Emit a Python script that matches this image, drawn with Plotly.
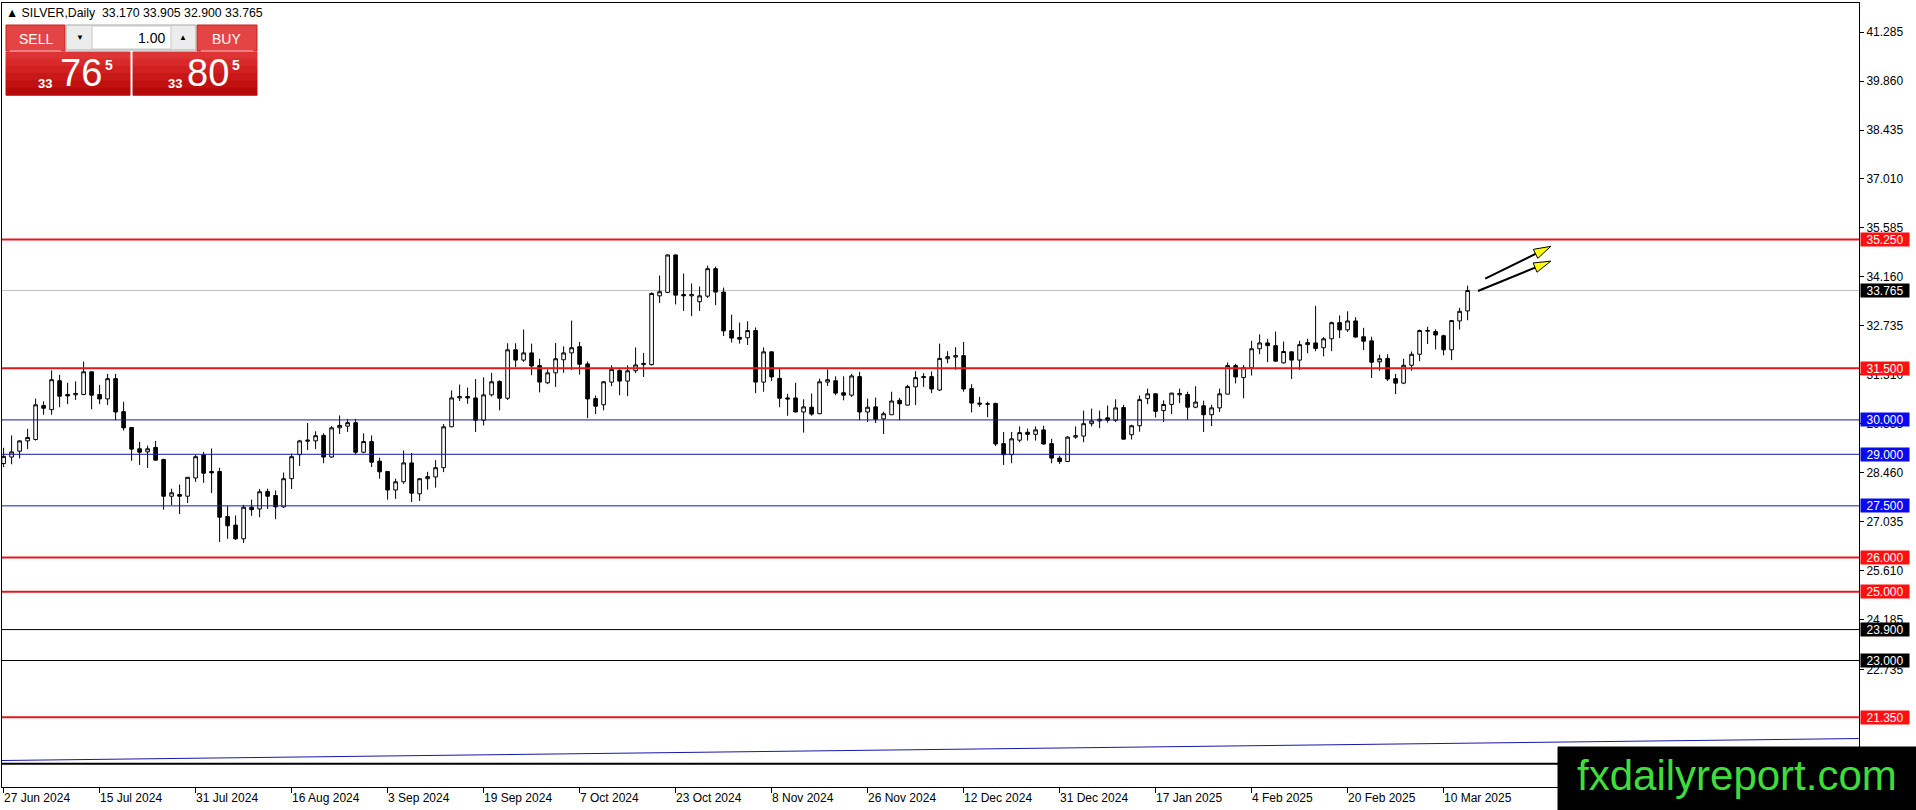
import plotly.graph_objects as go

# SILVER daily candles, one entry per bar (bar index = position on the chart)
opens = [28.73, 28.92, 29.09, 29.39, 29.43, 30.42, 30.30, 31.14, 30.74, 30.73,
         30.74, 31.40, 30.74, 30.61, 31.20, 30.24, 29.78, 29.16, 29.07, 29.20,
         28.85, 27.78, 27.83, 27.78, 28.31, 28.98, 28.50, 28.50, 27.19, 26.94,
         26.54, 27.46, 27.41, 27.92, 27.80, 27.47, 28.29, 28.99, 29.38, 29.39,
         29.55, 28.92, 29.77, 29.82, 29.92, 29.06, 29.37, 28.80, 28.50, 27.96,
         28.20, 28.75, 27.85, 28.29, 28.34, 28.61, 29.80, 30.64, 30.68, 30.64,
         29.99, 30.73, 31.12, 30.63, 32.04, 31.74, 31.95, 31.58, 31.08, 31.37,
         31.75, 31.95, 32.13, 31.63, 30.62, 30.44, 31.10, 31.44, 31.13, 31.43,
         31.61, 31.61, 33.61, 33.71, 34.80, 33.65, 33.61, 33.44, 33.60, 34.40,
         33.72, 32.60, 32.40, 32.39, 32.60, 31.10, 31.98, 31.21, 30.64, 30.64,
         30.23, 30.37, 30.18, 31.10, 31.14, 30.79, 30.72, 31.26, 30.23, 30.38,
         30.03, 30.15, 30.57, 30.43, 30.96, 31.23, 31.26, 30.87, 31.78, 31.83,
         31.87, 30.91, 30.49, 30.47, 30.48, 29.31, 28.99, 29.41, 29.64, 29.58,
         29.71, 29.31, 28.89, 28.79, 29.50, 29.53, 29.89, 29.97, 30.06, 29.99,
         30.36, 29.57, 29.83, 30.62, 30.76, 30.27, 30.45, 30.73, 30.74, 30.37,
         30.41, 30.15, 30.35, 30.75, 31.58, 31.23, 31.52, 32.07, 32.24, 32.16,
         31.66, 31.98, 31.74, 32.19, 32.24, 32.10, 32.36, 32.83, 32.62, 32.88,
         32.42, 32.30, 31.69, 31.79, 31.20, 31.07, 31.59, 31.91, 32.58, 32.57,
         32.45, 32.04, 32.88, 33.170]
highs = [29.19, 29.55, 29.41, 29.74, 30.62, 30.54, 31.44, 31.31, 31.08, 31.12,
         31.70, 31.41, 31.02, 31.34, 31.34, 30.53, 29.79, 29.36, 29.25, 29.39,
         28.87, 28.00, 28.12, 28.34, 28.99, 29.07, 29.17, 28.61, 27.50, 27.22,
         27.53, 27.68, 27.99, 28.00, 27.95, 28.47, 29.02, 29.42, 29.91, 29.67,
         29.61, 29.82, 30.13, 30.03, 30.03, 29.61, 29.55, 28.90, 28.51, 28.29,
         29.11, 29.04, 28.30, 28.49, 28.83, 29.88, 30.86, 31.03, 30.94, 31.19,
         31.24, 31.37, 31.15, 32.23, 32.23, 32.63, 32.22, 31.78, 31.47, 32.24,
         32.14, 32.89, 32.27, 31.70, 30.71, 31.13, 31.59, 31.47, 31.59, 32.11,
         31.95, 33.71, 34.20, 34.81, 34.81, 34.26, 33.97, 33.88, 34.49, 34.46,
         33.85, 33.06, 32.83, 32.87, 32.69, 32.11, 31.99, 31.49, 30.76, 31.08,
         30.60, 30.77, 31.20, 31.47, 31.27, 31.27, 31.34, 31.40, 30.62, 30.65,
         30.24, 30.82, 30.64, 31.02, 31.42, 31.36, 31.41, 32.22, 32.00, 32.12,
         32.27, 31.04, 30.67, 30.53, 30.50, 29.65, 29.65, 29.81, 29.75, 29.81,
         29.83, 29.45, 28.96, 29.53, 29.81, 30.27, 30.33, 30.27, 30.42, 30.60,
         30.44, 29.86, 30.71, 30.91, 30.78, 30.57, 30.79, 30.91, 30.82, 30.98,
         30.56, 30.44, 30.91, 31.67, 31.63, 31.60, 32.30, 32.49, 32.36, 32.57,
         32.28, 31.99, 32.30, 32.36, 33.32, 32.41, 32.86, 33.04, 33.16, 32.99,
         32.68, 32.42, 31.90, 31.91, 31.34, 31.78, 31.99, 32.63, 32.71, 32.64,
         32.48, 32.90, 33.26, 33.905]
lows = [28.63, 28.71, 28.88, 29.15, 29.40, 30.15, 30.15, 30.37, 30.46, 30.58,
        30.72, 30.31, 30.46, 30.43, 29.99, 29.69, 28.81, 28.69, 28.60, 28.82,
        27.39, 27.52, 27.26, 27.58, 28.20, 28.17, 27.87, 26.45, 26.54, 26.51,
        26.42, 27.21, 27.17, 27.41, 27.11, 27.44, 27.99, 28.66, 29.12, 29.15,
        28.74, 28.90, 29.59, 29.65, 28.99, 29.03, 28.63, 28.29, 27.68, 27.70,
        28.14, 27.61, 27.64, 27.97, 28.03, 28.48, 29.79, 30.55, 30.47, 29.65,
        29.84, 30.68, 30.28, 30.58, 31.54, 31.69, 31.30, 30.80, 31.04, 30.96,
        31.37, 31.45, 31.32, 30.05, 30.17, 30.28, 30.98, 30.72, 30.69, 31.36,
        31.25, 31.58, 33.40, 33.69, 33.36, 33.17, 33.02, 33.17, 33.55, 33.34,
        32.44, 32.25, 32.22, 32.18, 30.78, 30.82, 31.13, 30.37, 30.12, 30.22,
        29.63, 30.12, 30.17, 30.99, 30.72, 30.57, 30.67, 29.99, 29.94, 29.91,
        29.59, 30.15, 29.99, 30.42, 30.43, 30.96, 30.78, 30.84, 31.65, 31.46,
        30.82, 30.22, 30.38, 30.08, 29.24, 28.69, 28.74, 29.35, 29.40, 29.40,
        29.28, 28.74, 28.72, 28.78, 29.45, 29.35, 29.81, 29.76, 29.92, 29.94,
        29.43, 29.43, 29.66, 30.46, 30.07, 29.94, 30.17, 30.49, 30.01, 30.34,
        29.65, 29.82, 30.23, 30.75, 31.06, 30.63, 31.29, 31.91, 31.68, 31.70,
        31.64, 31.19, 31.45, 31.94, 32.00, 31.85, 32.00, 32.38, 32.56, 32.40,
        32.03, 31.22, 31.43, 31.13, 30.75, 31.04, 31.43, 31.71, 32.21, 32.05,
        31.88, 31.74, 32.63, 32.900]
closes = [28.94, 29.07, 29.39, 29.49, 30.44, 30.34, 31.17, 30.69, 30.70, 30.77,
          31.40, 30.72, 30.61, 31.20, 30.23, 29.77, 29.15, 29.06, 29.16, 28.83,
          27.78, 27.88, 27.78, 28.33, 28.93, 28.45, 28.46, 27.17, 26.92, 26.54,
          27.46, 27.39, 27.91, 27.78, 27.47, 28.29, 28.93, 29.39, 29.41, 29.54,
          28.92, 29.77, 29.84, 29.92, 29.06, 29.37, 28.77, 28.49, 27.96, 28.20,
          28.75, 27.87, 28.29, 28.35, 28.61, 29.80, 30.64, 30.68, 30.64, 29.99,
          30.73, 31.11, 30.63, 32.04, 31.74, 31.95, 31.57, 31.10, 31.37, 31.78,
          31.95, 32.10, 31.62, 30.61, 30.40, 31.11, 31.47, 31.13, 31.43, 31.60,
          31.64, 33.68, 33.73, 34.80, 33.63, 33.61, 33.65, 33.61, 34.40, 33.72,
          32.59, 32.38, 32.35, 32.60, 31.10, 31.98, 31.25, 30.63, 30.61, 30.23,
          30.38, 30.17, 31.11, 31.17, 30.78, 30.72, 31.28, 30.23, 30.37, 30.02,
          30.18, 30.55, 30.47, 30.97, 31.23, 31.26, 30.90, 31.79, 31.84, 31.87,
          30.90, 30.49, 30.46, 30.46, 29.30, 28.99, 29.45, 29.63, 29.58, 29.71,
          29.30, 28.89, 28.79, 29.50, 29.54, 29.89, 29.97, 30.02, 29.99, 30.35,
          29.44, 29.83, 30.59, 30.76, 30.25, 30.45, 30.78, 30.77, 30.37, 30.52,
          30.15, 30.35, 30.76, 31.58, 31.25, 31.52, 32.07, 32.24, 32.16, 31.71,
          31.99, 31.74, 32.19, 32.25, 32.08, 32.36, 32.83, 32.62, 32.88, 32.41,
          32.29, 31.68, 31.78, 31.19, 31.07, 31.59, 31.91, 32.60, 32.60, 32.47,
          32.04, 32.89, 33.16, 33.765]

# time scale labels, one every 12 bars starting at bar 0
date_labels = ["27 Jun 2024", "15 Jul 2024", "31 Jul 2024", "16 Aug 2024", "3 Sep 2024",
               "19 Sep 2024", "7 Oct 2024", "23 Oct 2024", "8 Nov 2024", "26 Nov 2024",
               "12 Dec 2024", "31 Dec 2024", "17 Jan 2025", "4 Feb 2025", "20 Feb 2025",
               "10 Mar 2025"]
date_step = 12

price_ticks = [41.285, 39.860, 38.435, 37.010, 35.585, 34.160, 32.735, 31.310,
               29.885, 28.460, 27.035, 25.610, 24.185, 22.735]

red_levels = [35.25, 31.5, 26.0, 25.0, 21.35]
blue_levels = [30.0, 29.0, 27.5]
black_levels = [23.9, 23.0]
heavy_level = 20.0
bid_price = 33.765

trend_bars = [-0.2, 231.9]
trend_prices = [20.09, 20.73]

# two arrows (bar, price) tail -> tip
arrow_tails = [(185.2, 34.11), (184.3, 33.75)]
arrow_tips = [(193.4, 35.05), (193.4, 34.62)]

header = "\u25b2 SILVER,Daily  33.170 33.905 32.900 33.765"

# page geometry
FIG_W, FIG_H = 1916, 810
M_L, M_R, M_T, M_B = 2, 57, 3, 23
PW = FIG_W - M_L - M_R
PH = FIG_H - M_T - M_B
X_RANGE = [-0.2, 231.925]
Y_RANGE = [19.32, 42.13]

FONT = "Liberation Sans"
RED_LINE = "#e3191c"
RED_TAG = "#ff1010"
BLUE_LINE = "#1818a8"
BLUE_TAG = "#0a0af0"


def fx(px):
    return (px - M_L) / PW


def fy(py):
    return (FIG_H - M_B - py) / PH


def to_px(x, y):
    return (M_L + (x - X_RANGE[0]) / (X_RANGE[1] - X_RANGE[0]) * PW,
            M_T + (Y_RANGE[1] - y) / (Y_RANGE[1] - Y_RANGE[0]) * PH)


def to_data(px, py):
    return (X_RANGE[0] + (px - M_L) / PW * (X_RANGE[1] - X_RANGE[0]),
            Y_RANGE[1] - (py - M_T) / PH * (Y_RANGE[1] - Y_RANGE[0]))


fig = go.Figure()
fig.add_trace(go.Candlestick(
    x=list(range(len(opens))), open=opens, high=highs, low=lows, close=closes,
    increasing=dict(line=dict(color="black", width=1), fillcolor="white"),
    decreasing=dict(line=dict(color="black", width=1), fillcolor="black"),
    whiskerwidth=0, hoverinfo="skip", showlegend=False))

shapes = []
annotations = []


def level_line(price, color, width, layer="above"):
    shapes.append(dict(type="line", xref="paper", x0=0, x1=1, yref="y", y0=price, y1=price,
                       line=dict(color=color, width=width), layer=layer))


def level_tag(price, bg):
    annotations.append(dict(xref="paper", x=1, xanchor="left", xshift=1, yref="y", y=price,
                            text="%.3f" % price, showarrow=False, bgcolor=bg, width=48, height=13,
                            borderpad=0, font=dict(family=FONT, size=12, color="white")))


level_line(bid_price, "#c0c0c0", 1, "below")
for p in red_levels:
    level_line(p, RED_LINE, 2)
for p in blue_levels:
    level_line(p, BLUE_LINE, 1)
for p in black_levels:
    level_line(p, "black", 1)
level_line(heavy_level, "black", 2)

shapes.append(dict(type="line", xref="x", yref="y", x0=trend_bars[0], x1=trend_bars[1],
                   y0=trend_prices[0], y1=trend_prices[1], line=dict(color=BLUE_LINE, width=1)))

# arrows: black shaft, yellow head
for tail, tip in zip(arrow_tails, arrow_tips):
    tx, ty = to_px(*tail)
    hx, hy = to_px(*tip)
    dx, dy = hx - tx, hy - ty
    ln = (dx * dx + dy * dy) ** 0.5
    ux, uy = dx / ln, dy / ln
    bx, by = hx - 17 * ux, hy - 17 * uy
    c1 = to_data(bx - 5 * uy, by + 5 * ux)
    c2 = to_data(bx + 5 * uy, by - 5 * ux)
    b = to_data(bx, by)
    shapes.append(dict(type="line", xref="x", yref="y", x0=tail[0], y0=tail[1], x1=b[0], y1=b[1],
                       line=dict(color="black", width=2)))
    shapes.append(dict(type="path", xref="x", yref="y",
                       path="M %f,%f L %f,%f L %f,%f Z" % (tip[0], tip[1], c1[0], c1[1], c2[0], c2[1]),
                       fillcolor="#ffff00", line=dict(color="black", width=1)))

for p in red_levels:
    level_tag(p, RED_TAG)
for p in blue_levels:
    level_tag(p, BLUE_TAG)
for p in black_levels:
    level_tag(p, "black")
level_tag(bid_price, "black")

# date labels, left aligned on their tick
for k, lab in enumerate(date_labels):
    annotations.append(dict(xref="x", x=k * date_step, xanchor="left", xshift=-2,
                            yref="paper", y=fy(798), yanchor="middle", text=lab, showarrow=False,
                            font=dict(family=FONT, size=12, color="black")))

annotations.append(dict(xref="paper", x=fx(4), xanchor="left", yref="paper", y=fy(13),
                        yanchor="middle", text=header, showarrow=False,
                        font=dict(family=FONT, size=12.3, color="black")))


# one click trading panel
def rect(x0, y0, x1, y1, fill, line=None):
    shapes.append(dict(type="rect", xref="paper", yref="paper", x0=fx(x0), x1=fx(x1),
                       y0=fy(y1), y1=fy(y0), fillcolor=fill,
                       line=dict(color=line or fill, width=1), layer="above"))


def label(x, y, txt, size, color="white", anchor="center", bold=False):
    annotations.append(dict(xref="paper", yref="paper", x=fx(x), y=fy(y), xanchor=anchor,
                            yanchor="middle", text="<b>%s</b>" % txt if bold else txt,
                            showarrow=False, borderpad=0,
                            font=dict(family=FONT, size=size, color=color)))


reds = ["#de3434", "#d82a2a", "#d02020", "#c81818", "#c01010", "#b80a0a"]
for x0, x1 in [(6, 130), (133, 257)]:
    for k, c in enumerate(reds):
        rect(x0, 52 + k * 7.2, x1, 52 + (k + 1) * 7.2, c)
rect(6, 25, 65, 51, "#e44444", "#c82020")
rect(197, 25, 257, 51, "#e44444", "#c82020")
rect(10, 50.5, 61, 51.5, "#f08080")
rect(201, 50.5, 253, 51.5, "#f08080")
rect(66, 25, 196, 50, "#ececec", "#a8a8a8")
rect(92, 26, 171, 49, "white", "#c8c8c8")

label(35.5, 38.5, "SELL", 14)
label(226.5, 38.5, "BUY", 14)
label(166, 38, "1.00", 14, "black", "right")
label(80, 38, "\u25bc", 8, "black")
label(183, 38, "\u25b2", 8, "black")
for x33, xbig, x5, big in [(45, 81, 108.5, "76"), (174.5, 208, 236, "80")]:
    label(x33, 83, "33", 13, bold=True)
    label(xbig, 73.5, big, 38)
    label(x5, 65, "5", 14, bold=True)

# watermark
rect(1558, 747, 1916, 810, "black")
label(1737, 775, "fxdailyreport.com", 42, "#3ede3a")

fig.update_layout(
    width=FIG_W, height=FIG_H,
    margin=dict(l=M_L, r=M_R, t=M_T, b=M_B),
    paper_bgcolor="white", plot_bgcolor="white",
    shapes=shapes, annotations=annotations,
    showlegend=False,
    boxgap=0.35,
    xaxis=dict(range=X_RANGE, rangeslider=dict(visible=False), showgrid=False, zeroline=False,
               tickmode="array", tickvals=[k * date_step for k in range(len(date_labels))],
               showticklabels=False, ticks="outside", ticklen=5, tickcolor="black",
               showline=True, mirror=True, linecolor="black", linewidth=1),
    yaxis=dict(range=Y_RANGE, side="right", showgrid=False, zeroline=False,
               tickmode="array", tickvals=price_ticks, ticktext=["%.3f" % v for v in price_ticks],
               ticks="outside", ticklen=4, tickcolor="black",
               tickfont=dict(family=FONT, size=12, color="black"),
               showline=True, mirror=True, linecolor="black", linewidth=1),
)

fig.write_html("out.html", config={"displayModeBar": False},
               post_script="document.body.style.margin='0';document.body.style.overflow='hidden';")
